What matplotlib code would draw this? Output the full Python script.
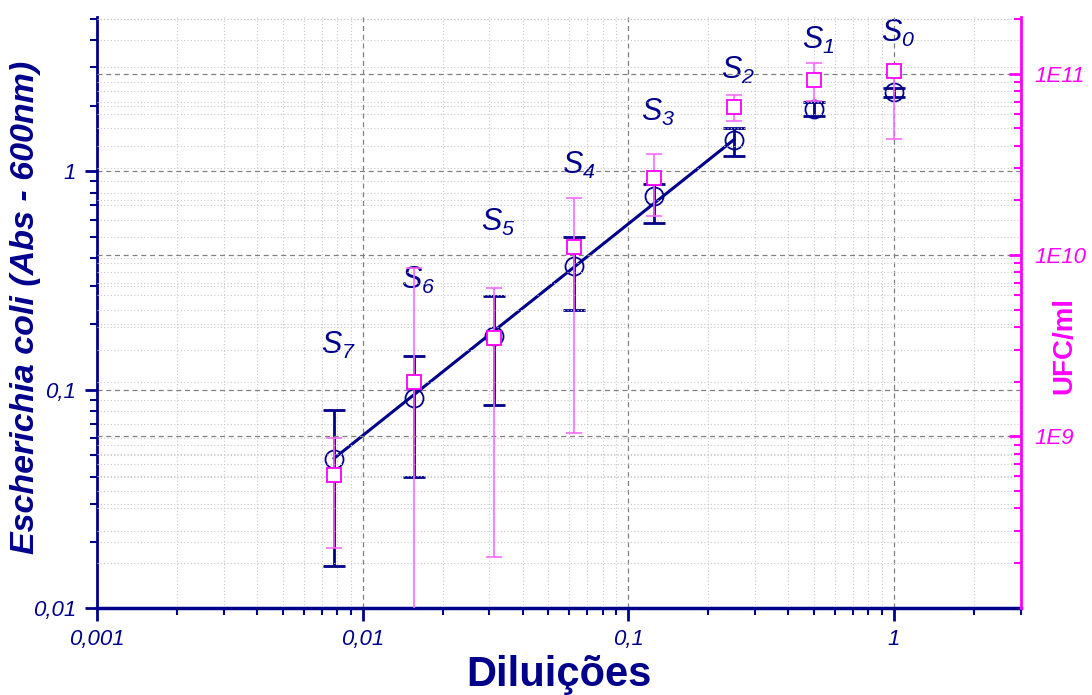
import numpy as np
import matplotlib
matplotlib.use("Agg")
import matplotlib.pyplot as plt
from matplotlib.ticker import LogLocator, FixedLocator, FixedFormatter, NullFormatter

plt.rcParams['font.family'] = ['Liberation Sans', 'DejaVu Sans']
plt.rcParams['mathtext.fontset'] = 'custom'
plt.rcParams['mathtext.rm'] = 'Liberation Sans:italic'
plt.rcParams['mathtext.it'] = 'Liberation Sans:italic'

NAVY = '#00008B'
MAG = '#FF00FF'
MAG_LIGHT = '#FF66FF'

# dilutions S0..S7 (ordered S7 -> S0)
dilution = [1/128, 1/64, 1/32, 1/16, 1/8, 1/4, 1/2, 1]
sample_names = ['7', '6', '5', '4', '3', '2', '1', '0']

# absorbance (left axis)
abs_mean = [0.048, 0.0914, 0.176, 0.367, 0.77, 1.39, 1.94, 2.32]
abs_low = [0.0156, 0.040, 0.085, 0.231, 0.578, 1.18, 1.80, 2.20]
abs_high = [0.081, 0.142, 0.27, 0.499, 0.88, 1.59, 2.09, 2.42]

# UFC/ml (right axis)
ufc_mean = [6.1e8, 1.99e9, 3.47e9, 1.10e10, 2.64e10, 6.58e10, 9.27e10, 1.03e11]
ufc_low = [2.42e8, 5e7, 2.15e8, 1.04e9, 1.63e10, 5.51e10, 7.1e10, 4.38e10]
ufc_high = [9.75e8, 8.43e9, 6.54e9, 2.07e10, 3.62e10, 7.66e10, 1.15e11, 1.10e11]

# linear fit (log-log) over S7..S2
fit_x = [1/128, 1/4]
fit_y = [0.0485, 1.40]

# label offsets above circles (points)
label_dy = [82, 85, 82, 73, 60, 50, 49, 42]

fig = plt.figure(figsize=(10.92, 6.95), dpi=100)
ax = fig.add_axes([0.0888, 0.1252, 0.846, 0.8503])
ax2 = ax.twinx()

ax.set_xscale('log')
ax.set_yscale('log')
ax2.set_yscale('log')
ax.set_xlim(0.001, 3)
ax.set_ylim(0.01, 5.1)
ax2.set_ylim(1.13e8, 2.05e11)

# grids
ax.grid(True, which='major', axis='both', ls=(0, (4, 3)), color='#808080', lw=0.9)
ax.grid(True, which='minor', axis='both', ls=(0, (1, 2)), color='#C8C8C8', lw=0.8)
ax2.grid(True, which='major', axis='y', ls=(0, (4, 3)), color='#808080', lw=0.9)
ax2.grid(True, which='minor', axis='y', ls=(0, (1, 2)), color='#C8C8C8', lw=0.8)
ax.set_axisbelow(True)

x = np.array(dilution)
m = np.array(abs_mean)
ax.errorbar(x, m, yerr=[m - np.array(abs_low), np.array(abs_high) - m], fmt='none',
            ecolor=NAVY, elinewidth=2, capsize=8, capthick=2, zorder=3)
ax.plot(fit_x, fit_y, color=NAVY, lw=2.2, zorder=4)
ax.plot(x, m, 'o', ms=13, mfc='none', mec=NAVY, mew=1.3, zorder=5)

u = np.array(ufc_mean)
ax2.errorbar(x, u, yerr=[u - np.array(ufc_low), np.array(ufc_high) - u], fmt='none',
             ecolor=MAG_LIGHT, elinewidth=1.3, capsize=6, capthick=1.3, alpha=0.9, zorder=2)
ax2.plot(x, u, 's', ms=9.5, mfc='white', mec=MAG, mew=1.3, zorder=3)

for xi, yi, name, dy in zip(dilution, abs_mean, sample_names, label_dy):
    ax.annotate(r'$S_{%s}$' % name, (xi, yi), xytext=(3, dy), textcoords='offset points',
                ha='center', va='center', color=NAVY, fontsize=22)

# spines
ax.spines['top'].set_visible(False)
ax2.spines['top'].set_visible(False)
ax.spines['left'].set_color(NAVY)
ax.spines['left'].set_linewidth(2)
ax.spines['bottom'].set_color(NAVY)
ax.spines['bottom'].set_linewidth(2.5)
ax2.spines['left'].set_visible(False)
ax2.spines['bottom'].set_visible(False)
ax2.spines['right'].set_color(MAG)
ax2.spines['right'].set_linewidth(2)
ax.spines['right'].set_visible(False)

# ticks
ax.xaxis.set_major_locator(FixedLocator([0.001, 0.01, 0.1, 1]))
ax.xaxis.set_major_formatter(FixedFormatter(['0,001', '0,01', '0,1', '1']))
ax.xaxis.set_minor_locator(LogLocator(base=10, subs=np.arange(2, 10)))
ax.xaxis.set_minor_formatter(NullFormatter())
ax.yaxis.set_major_locator(FixedLocator([0.01, 0.1, 1]))
ax.yaxis.set_major_formatter(FixedFormatter(['0,01', '0,1', '1']))
ax.yaxis.set_minor_locator(LogLocator(base=10, subs=np.arange(2, 10)))
ax.yaxis.set_minor_formatter(NullFormatter())
ax.tick_params(axis='both', which='major', direction='out', length=9, width=2, colors=NAVY,
               labelsize=16, pad=6)
ax.tick_params(axis='both', which='minor', direction='out', length=5, width=1.5, colors=NAVY)
for lab in ax.get_xticklabels() + ax.get_yticklabels():
    lab.set_fontstyle('italic')

ax2.yaxis.set_major_locator(FixedLocator([1e9, 1e10, 1e11]))
ax2.yaxis.set_major_formatter(FixedFormatter(['1E9', '1E10', '1E11']))
ax2.yaxis.set_minor_locator(LogLocator(base=10, subs=np.arange(2, 10)))
ax2.yaxis.set_minor_formatter(NullFormatter())
ax2.tick_params(axis='y', which='major', direction='in', length=9, width=2, colors=MAG,
                labelsize=16, pad=10)
ax2.tick_params(axis='y', which='minor', direction='in', length=5, width=1.5, colors=MAG)
for lab in ax2.get_yticklabels():
    lab.set_fontstyle('italic')

ax.set_xlabel('Diluições', fontsize=30, fontweight='bold', color=NAVY)
ax.xaxis.set_label_coords(0.5, -0.113)
ax.xaxis.label.set_va('center')
ax.set_ylabel(r'Escherichia coli (Abs - 600nm)', fontsize=24.5, fontweight='bold',
              fontstyle='italic', color=NAVY, va='center', ha='center')
ax.yaxis.set_label_coords(-0.077, 0.509)
ax2.set_ylabel('UFC/ml', fontsize=20, fontweight='bold', color=MAG, va='center', ha='center',
               rotation=90)
ax2.yaxis.set_label_coords(1.0476, 0.445)

fig.savefig('out.png', dpi=100)
